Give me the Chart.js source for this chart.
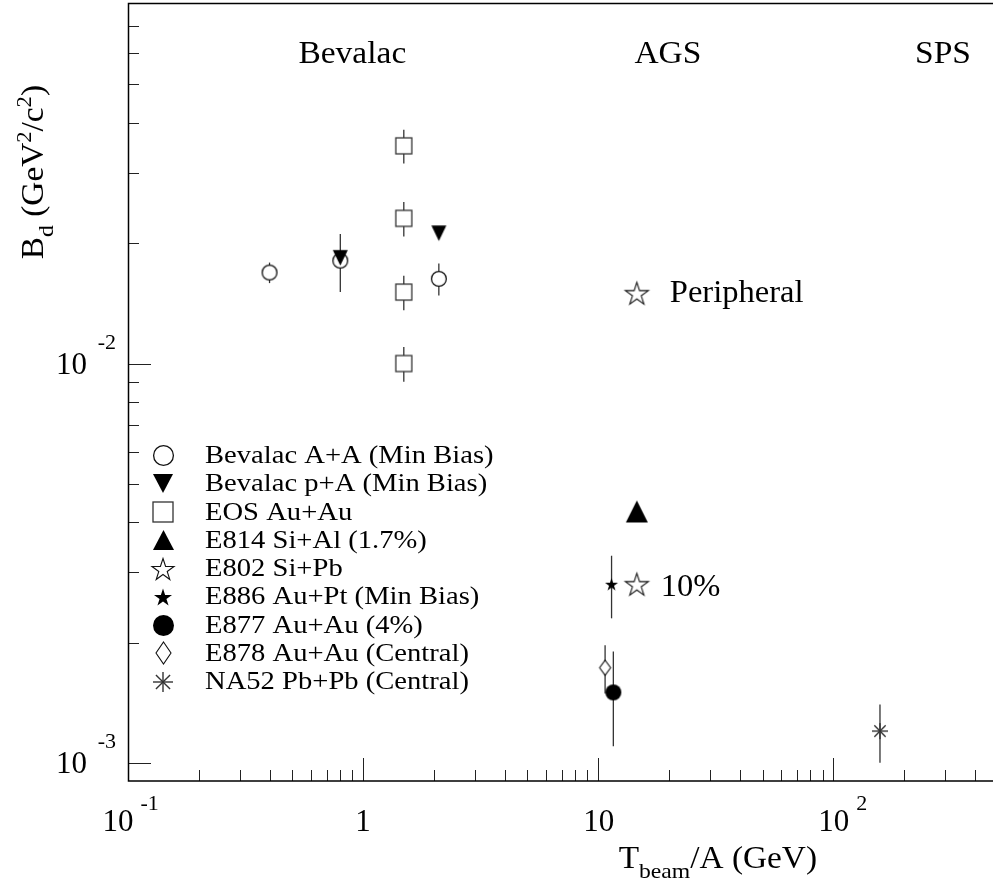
<!DOCTYPE html>
<html>
<head>
<meta charset="utf-8">
<script src="https://cdn.jsdelivr.net/npm/chart.js@4.4.1/dist/chart.umd.min.js"></script>
<style>
  html, body { margin: 0; padding: 0; background: #fff; }
  canvas { display: block; }
</style>
</head>
<body>
<canvas id="c" width="993" height="886"></canvas>
<script>
// Deuteron coalescence parameter B_d versus beam kinetic energy per nucleon

// ---- data ----
const bevAAx = [0.4, 0.8, 2.1];
const bevAAy = [0.0169, 0.0181, 0.0163];
const bevAAerr = [0.001, 0.003, 0.0015];

const bevPAx = [0.8, 2.1];
const bevPAy = [0.0184, 0.0212];

const eosX = [1.49, 1.49, 1.49, 1.49];
const eosY = [0.0351, 0.0231, 0.0151, 0.0100];
const eosErr = [0.0034, 0.0023, 0.0015, 0.0010];

const e814X = [14.6];
const e814Y = [0.00426];

const e802X = [14.6, 14.6];
const e802Y = [0.0150, 0.0028];
const e802Notes = ['Peripheral', '10%'];

const e886X = [11.4];
const e886Y = [0.0028];
const e886Err = [0.0005];

const e877X = [11.6];
const e877Y = [0.0015];
const e877Err = [0.0004];

const e878X = [10.7];
const e878Y = [0.00173];
const e878Err = [0.00024];

const na52X = [158];
const na52Y = [0.0012];
const na52Err = [0.0002];

const seriesNames = [
  'Bevalac A+A (Min Bias)',
  'Bevalac p+A (Min Bias)',
  'EOS Au+Au',
  'E814 Si+Al (1.7%)',
  'E802 Si+Pb',
  'E886 Au+Pt (Min Bias)',
  'E877 Au+Au (4%)',
  'E878 Au+Au (Central)',
  'NA52 Pb+Pb (Central)'
];

// accelerator regions written across the top of the frame
const regionNames = ['Bevalac', 'AGS', 'SPS'];
const regionX = [0.9, 19.8, 293];
const regionY = 0.0565;

// axis ranges and ticks
const xMin = 0.1, xMax = 478;
const yMin = 0.0009, yMax = 0.08;
const xTicksMajor = [0.1, 1, 10, 100];
const xTicksMinor = [0.2, 0.3, 0.4, 0.5, 0.6, 0.7, 0.8, 0.9,
                     2, 3, 4, 5, 6, 7, 8, 9,
                     20, 30, 40, 50, 60, 70, 80, 90,
                     200, 300, 400];
const yTicksMajor = [0.001, 0.01];
const yTicksMinor = [0.002, 0.003, 0.004, 0.005, 0.006, 0.007, 0.008, 0.009,
                     0.02, 0.03, 0.04, 0.05, 0.06, 0.07];
const xLabelVals = [0.1, 1, 10, 100];
const xLabelBase = ['10', '1', '10', '10'];
const xLabelExp  = ['-1', '', '', '2'];
const yLabelVals = [0.001, 0.01];
const yLabelBase = ['10', '10'];
const yLabelExp  = ['-3', '-2'];

// ---- styling helpers ----
const FONT = '"Liberation Serif", "Times New Roman", Times, serif';

function drawText(ctx, s, x, y, size, sx) {
  ctx.save();
  ctx.font = size + 'px ' + FONT;
  ctx.textAlign = 'left';
  ctx.textBaseline = 'alphabetic';
  ctx.translate(x, y);
  ctx.scale(sx, 1);
  ctx.fillText(s, 0, 0);
  ctx.restore();
}
function measure(ctx, s, size, sx) {
  ctx.save();
  ctx.font = size + 'px ' + FONT;
  const w = ctx.measureText(s).width * sx;
  ctx.restore();
  return w;
}
function runsWidth(ctx, runs, sx) {
  return runs.reduce((a, r) => a + measure(ctx, r.t, r.size, sx), 0);
}
function drawRuns(ctx, runs, x, y, sx) {
  let cx = x;
  runs.forEach(r => {
    drawText(ctx, r.t, cx, y + (r.dy || 0), r.size, sx);
    cx += measure(ctx, r.t, r.size, sx);
  });
}

// ---- marker glyphs ----
function starPath(g, R) {
  const r = R * 0.382;
  g.beginPath();
  for (let i = 0; i < 10; i++) {
    const a = -Math.PI / 2 + i * Math.PI / 5;
    const rr = (i % 2) ? r : R;
    const px = Math.cos(a) * rr, py = Math.sin(a) * rr;
    if (i === 0) g.moveTo(px, py); else g.lineTo(px, py);
  }
  g.closePath();
}
function makeMarker(kind, w, h) {
  const pad = 3;
  const c = document.createElement('canvas');
  c.width = Math.ceil(w + 2 * pad);
  c.height = Math.ceil(h + 2 * pad);
  const g = c.getContext('2d');
  g.translate(c.width / 2, c.height / 2);
  g.lineWidth = 1.3;
  g.strokeStyle = '#111';
  g.fillStyle = '#000';
  switch (kind) {
    case 'circleOpen':
      g.beginPath(); g.arc(0, 0, w / 2 - 0.6, 0, Math.PI * 2);
      g.fillStyle = '#fff'; g.fill(); g.stroke(); break;
    case 'circleFilled':
      g.beginPath(); g.arc(0, 0, w / 2, 0, Math.PI * 2); g.fill(); break;
    case 'square':
      g.fillStyle = '#fff'; g.strokeStyle = '#333';
      g.fillRect(-w / 2, -h / 2, w, h); g.strokeRect(-w / 2, -h / 2, w, h); break;
    case 'triDown':
      g.beginPath(); g.moveTo(-w / 2, -h / 2); g.lineTo(w / 2, -h / 2); g.lineTo(0, h / 2);
      g.closePath(); g.fill(); break;
    case 'triUp':
      g.beginPath(); g.moveTo(-w / 2, h / 2); g.lineTo(w / 2, h / 2); g.lineTo(0, -h / 2);
      g.closePath(); g.fill(); break;
    case 'starOpen': {
      const R = w / 1.902;
      g.translate(0, 0.095 * R);
      starPath(g, R); g.lineWidth = 1.1; g.fillStyle = '#fff'; g.fill(); g.stroke(); break;
    }
    case 'starFilled': {
      const R = w / 1.902;
      g.translate(0, 0.095 * R);
      starPath(g, R); g.fill(); break;
    }
    case 'diamond':
      g.beginPath(); g.moveTo(0, -h / 2); g.lineTo(w / 2, 0); g.lineTo(0, h / 2); g.lineTo(-w / 2, 0);
      g.closePath(); g.lineWidth = 1.1; g.fillStyle = '#fff'; g.fill(); g.stroke(); break;
    case 'asterisk':
      g.strokeStyle = '#333'; g.lineWidth = 1.4;
      for (let k = 0; k < 4; k++) {
        const a = k * Math.PI / 4, L = w / 2;
        g.beginPath(); g.moveTo(-Math.cos(a) * L, -Math.sin(a) * L);
        g.lineTo(Math.cos(a) * L, Math.sin(a) * L); g.stroke();
      }
      break;
  }
  return c;
}

function pts(xs, ys) { return xs.map((x, i) => ({ x: x, y: ys[i] })); }

function series(idx, xs, ys, errs, kind, pw, ph, lw, lh, order) {
  return {
    label: seriesNames[idx],
    data: pts(xs, ys),
    errs: errs,
    pointStyle: makeMarker(kind, pw, ph),
    legendMarker: makeMarker(kind, lw, lh),
    pointRadius: Math.max(pw, ph) / 2,
    showLine: false,
    order: order
  };
}

const datasets = [
  series(0, bevAAx, bevAAy, bevAAerr, 'circleOpen', 16, 16, 21, 21, 2),
  series(1, bevPAx, bevPAy, null, 'triDown', 15, 15.5, 20, 19, 0),
  series(2, eosX, eosY, eosErr, 'square', 16, 16, 20, 20, 1),
  series(3, e814X, e814Y, null, 'triUp', 22, 22, 21, 20, 1),
  series(4, e802X, e802Y, null, 'starOpen', 23, 23, 22, 22, 1),
  series(5, e886X, e886Y, e886Err, 'starFilled', 13, 13, 18, 18, 1),
  series(6, e877X, e877Y, e877Err, 'circleFilled', 16, 16, 21, 21, 1),
  series(7, e878X, e878Y, e878Err, 'diamond', 11, 15, 15, 22, 1),
  series(8, na52X, na52Y, na52Err, 'asterisk', 16, 16, 20, 20, 1)
];
datasets[4].notes = e802Notes;

// ---- plugins ----
const whiteBackground = {
  id: 'whiteBackground',
  beforeDraw(chart) {
    const ctx = chart.ctx;
    ctx.save(); ctx.fillStyle = '#fff'; ctx.fillRect(0, 0, chart.width, chart.height); ctx.restore();
  }
};

const errorBars = {
  id: 'errorBars',
  beforeDatasetsDraw(chart) {
    const ctx = chart.ctx, xs = chart.scales.x, ys = chart.scales.y;
    ctx.save();
    ctx.strokeStyle = '#333';
    ctx.lineWidth = 1.3;
    chart.data.datasets.forEach(ds => {
      if (!ds.errs) return;
      ds.data.forEach((p, j) => {
        const e = ds.errs[j];
        const px = xs.getPixelForValue(p.x);
        ctx.beginPath();
        ctx.moveTo(px, ys.getPixelForValue(p.y + e));
        ctx.lineTo(px, ys.getPixelForValue(p.y - e));
        ctx.stroke();
      });
    });
    ctx.restore();
  }
};

const frameAndAxes = {
  id: 'frameAndAxes',
  afterDatasetsDraw(chart) {
    const ctx = chart.ctx, a = chart.chartArea, xs = chart.scales.x, ys = chart.scales.y;
    ctx.save();
    // ticks point into the frame
    ctx.strokeStyle = '#222';
    ctx.lineWidth = 1;
    const xt = (v, len) => {
      const px = Math.round(xs.getPixelForValue(v)) + 0.5;
      ctx.beginPath(); ctx.moveTo(px, a.bottom); ctx.lineTo(px, a.bottom - len); ctx.stroke();
    };
    const yt = (v, len) => {
      const py = Math.round(ys.getPixelForValue(v)) + 0.5;
      ctx.beginPath(); ctx.moveTo(a.left, py); ctx.lineTo(a.left + len, py); ctx.stroke();
    };
    xTicksMajor.forEach(v => xt(v, 23));
    xTicksMinor.forEach(v => xt(v, 11));
    yTicksMajor.forEach(v => yt(v, 23));
    yTicksMinor.forEach(v => yt(v, 11));
    // frame: left, bottom and top edges
    ctx.strokeStyle = '#000';
    ctx.lineWidth = 1.5;
    ctx.beginPath();
    ctx.moveTo(a.right, a.top + 0.5);
    ctx.lineTo(a.left + 0.5, a.top + 0.5);
    ctx.lineTo(a.left + 0.5, a.bottom);
    ctx.lineTo(a.right, a.bottom);
    ctx.stroke();
    ctx.restore();
  },
  afterDraw(chart) {
    const ctx = chart.ctx, a = chart.chartArea, xs = chart.scales.x, ys = chart.scales.y;
    ctx.save();
    ctx.fillStyle = '#000';

    // x tick labels
    const xShift = [-10, 0, 0.5, 0.5];
    xLabelVals.forEach((v, i) => {
      const px = xs.getPixelForValue(v) + xShift[i];
      const bw = measure(ctx, xLabelBase[i], 31, 1);
      const left = px - bw / 2;
      drawText(ctx, xLabelBase[i], left, 830.5, 31, 1);
      if (xLabelExp[i]) drawText(ctx, xLabelExp[i], left + bw + 7, 809.5, 22, 1);
    });

    // y tick labels
    yLabelVals.forEach((v, i) => {
      const py = ys.getPixelForValue(v);
      const bw = measure(ctx, yLabelBase[i], 31, 1);
      const right = a.left - 41;
      drawText(ctx, yLabelBase[i], right - bw, py + 10.7, 31, 1);
      drawText(ctx, yLabelExp[i], right + 10.7, py - 14.7, 22, 1);
    });

    // axis titles
    const SX = 1.075;
    const xTitle = [{ t: 'T', size: 31 }, { t: 'beam', size: 22, dy: 10 }, { t: '/A (GeV)', size: 31 }];
    const xtw = runsWidth(ctx, xTitle, SX);
    drawRuns(ctx, xTitle, a.right - 176 - xtw, 868.3, SX);

    const yTitle = [{ t: 'B', size: 31 }, { t: 'd', size: 22, dy: 10 }, { t: ' (GeV', size: 31 },
                    { t: '2', size: 21, dy: -12 }, { t: '/c', size: 31 }, { t: '2', size: 21, dy: -12 },
                    { t: ')', size: 31 }];
    const ytw = runsWidth(ctx, yTitle, SX);
    ctx.save();
    ctx.translate(43.3, a.top + 82 + ytw);
    ctx.rotate(-Math.PI / 2);
    drawRuns(ctx, yTitle, 0, 0, SX);
    ctx.restore();

    // accelerator regions
    regionNames.forEach((s, i) => {
      const w = measure(ctx, s, 31, 1.08);
      drawText(ctx, s, xs.getPixelForValue(regionX[i]) - w / 2, ys.getPixelForValue(regionY), 31, 1.08);
    });

    // notes beside the E802 points
    const noteDx = [33, 24], noteDy = [9, 12];
    const ds = chart.data.datasets[4];
    ds.data.forEach((p, j) => {
      drawText(ctx, ds.notes[j], xs.getPixelForValue(p.x) + noteDx[j], ys.getPixelForValue(p.y) + noteDy[j], 31, 1.05);
    });

    // legend
    const lx = 163.3, tx = 205, ly0 = 455.7, step = 28.25;
    chart.data.datasets.forEach((d, i) => {
      const cy = ly0 + i * step;
      const m = d.legendMarker;
      ctx.drawImage(m, Math.round(lx - m.width / 2), Math.round(cy - m.height / 2));
      drawText(ctx, d.label, tx, cy + 7.5, 26, 1.1);
    });
    ctx.restore();
  }
};

new Chart(document.getElementById('c'), {
  type: 'scatter',
  data: { datasets: datasets },
  options: {
    responsive: false,
    devicePixelRatio: 1,
    animation: false,
    events: [],
    layout: { autoPadding: false, padding: { left: 128, right: 0, top: 3, bottom: 105 } },
    plugins: { legend: { display: false }, tooltip: { enabled: false } },
    scales: {
      x: { type: 'logarithmic', min: xMin, max: xMax, bounds: 'data', display: false },
      y: { type: 'logarithmic', min: yMin, max: yMax, bounds: 'data', display: false }
    }
  },
  plugins: [whiteBackground, errorBars, frameAndAxes]
});
</script>
</body>
</html>
